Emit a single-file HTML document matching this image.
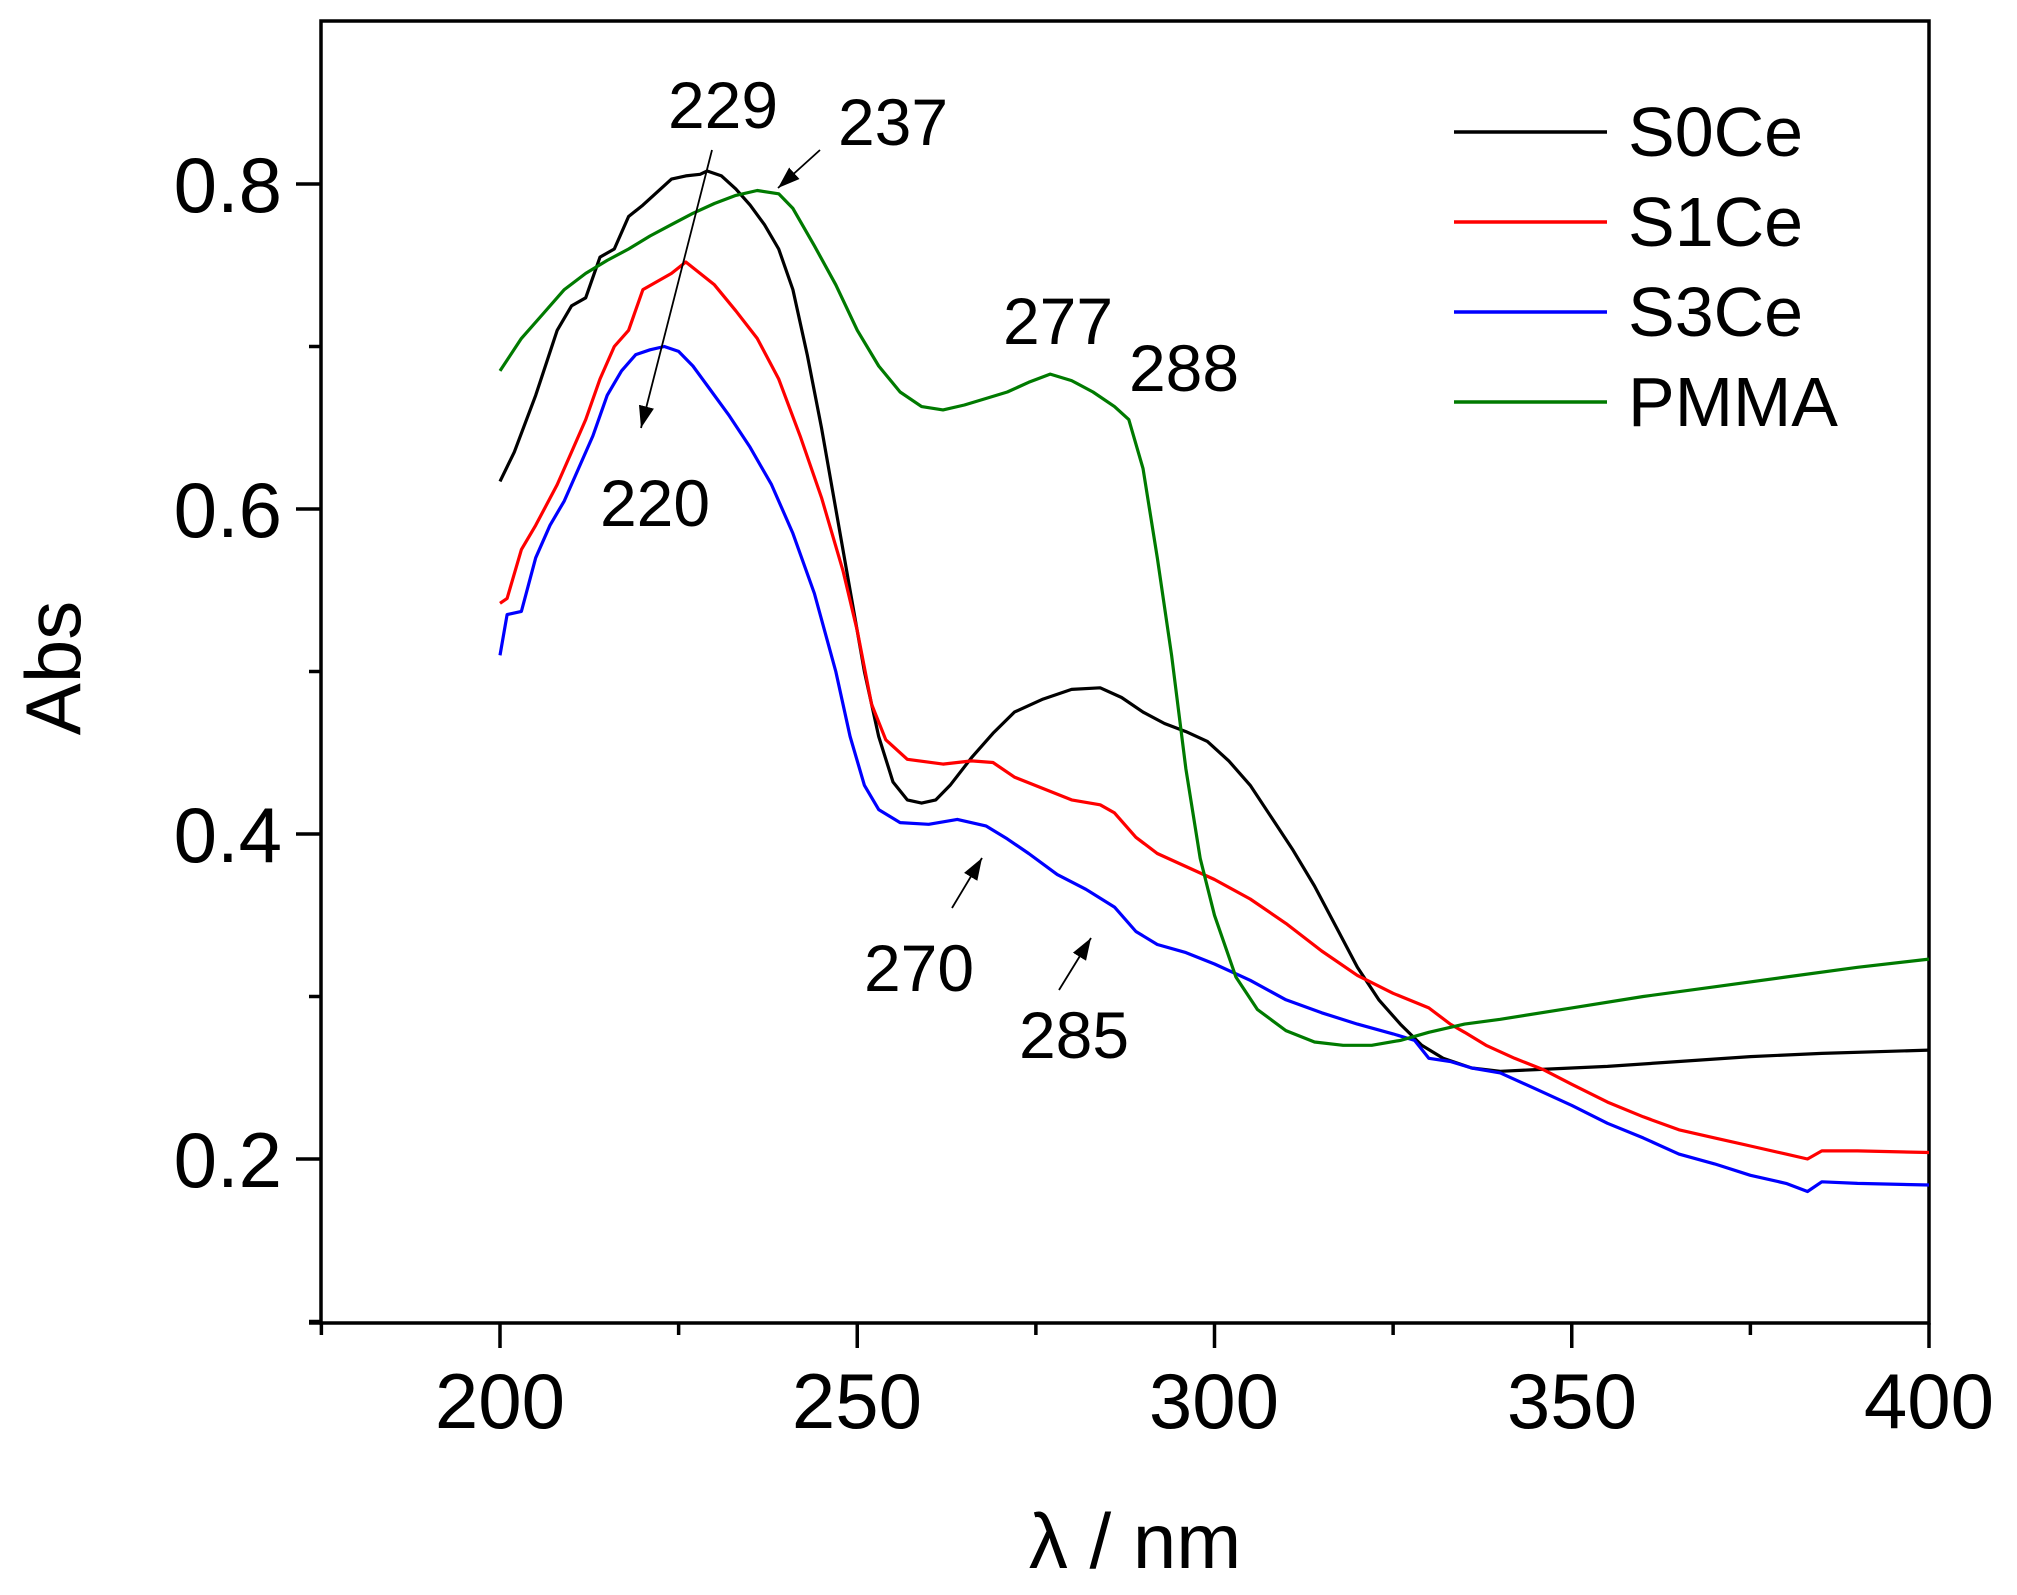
<!DOCTYPE html>
<html><head><meta charset="utf-8">
<style>
html,body{margin:0;padding:0;background:#fff;}
svg{display:block;}
text{font-family:"Liberation Sans",Arial,sans-serif;fill:#000;}
</style></head>
<body>
<svg id="s" width="2017" height="1595" viewBox="0 0 2017 1595" xmlns="http://www.w3.org/2000/svg">
<defs>
<marker id="ah" viewBox="0 0 10 10" refX="10" refY="5" markerWidth="22" markerHeight="22" markerUnits="userSpaceOnUse" orient="auto">
<path d="M0,1.5 L10,5 L0,8.5 z" fill="#000"/>
</marker>
</defs>
<rect x="321" y="21" width="1608" height="1302" fill="none" stroke="#000" stroke-width="3.5"/>
<line x1="309" y1="1323" x2="321" y2="1323" stroke="#000" stroke-width="3.5"/>
<g id="ticks" stroke="#000" stroke-width="3.5"></g>
<g font-size="78">
<text x="282" y="212" text-anchor="end">0.8</text>
<text x="282" y="537" text-anchor="end">0.6</text>
<text x="282" y="862" text-anchor="end">0.4</text>
<text x="282" y="1187" text-anchor="end">0.2</text>
<text x="500" y="1428" text-anchor="middle">200</text>
<text x="857" y="1428" text-anchor="middle">250</text>
<text x="1214" y="1428" text-anchor="middle">300</text>
<text x="1572" y="1428" text-anchor="middle">350</text>
<text x="1929" y="1428" text-anchor="middle">400</text>
<text x="1135" y="1568" text-anchor="middle">λ / nm</text>
<text transform="translate(80,668) rotate(-90)" text-anchor="middle">Abs</text>
</g>
<g fill="none" stroke-width="3.2" stroke-linejoin="round">
<path id="pk" stroke="#000"/>
<path id="pr" stroke="#ff0000"/>
<path id="pb" stroke="#0000ff"/>
<path id="pg" stroke="#007a00"/>
</g>
<g stroke-width="3.5">
<line x1="1454" y1="132" x2="1607" y2="132" stroke="#000"/>
<line x1="1454" y1="222" x2="1607" y2="222" stroke="#ff0000"/>
<line x1="1454" y1="312" x2="1607" y2="312" stroke="#0000ff"/>
<line x1="1454" y1="402" x2="1607" y2="402" stroke="#007a00"/>
</g>
<g font-size="70">
<text x="1628" y="156">S0Ce</text>
<text x="1628" y="246">S1Ce</text>
<text x="1628" y="336">S3Ce</text>
<text x="1628" y="426">PMMA</text>
</g>
<g font-size="66" text-anchor="middle">
<text x="723" y="128">229</text>
<text x="893" y="145">237</text>
<text x="655" y="526">220</text>
<text x="1058" y="344">277</text>
<text x="1184" y="391">288</text>
<text x="919" y="991">270</text>
<text x="1074" y="1058">285</text>
</g>
<g stroke="#000" stroke-width="1.8">
<line x1="712" y1="150" x2="641" y2="428" marker-end="url(#ah)"/>
<line x1="820" y1="150" x2="778" y2="188" marker-end="url(#ah)"/>
<line x1="952" y1="908" x2="982" y2="858" marker-end="url(#ah)"/>
<line x1="1059" y1="990" x2="1091" y2="938" marker-end="url(#ah)"/>
</g>
</svg>
<script>
var X=function(v){return 500+(v-200)*7.145;};
var Y=function(v){return 184+(0.8-v)*1625;};
var NS="http://www.w3.org/2000/svg";
var tg=document.getElementById('ticks');
function ln(a,b,c,d){var l=document.createElementNS(NS,'line');l.setAttribute('x1',a);l.setAttribute('y1',b);l.setAttribute('x2',c);l.setAttribute('y2',d);tg.appendChild(l);}
for(var v=175;v<=400;v+=25){var x=X(v);var major=(v%50===0);ln(x,1323,x,major?1348:1335);}
for(var k=1;k<=8;k++){var val=k/10;var y=Y(val);var major=(k%2===0);ln(major?296:309,y,321,y);}
var D={
pk:[[200,.617],[202,.635],[205,.67],[208,.71],[210,.725],[212,.73],[214,.755],[216,.76],[218,.78],[220,.787],[222,.795],[224,.803],[226,.805],[228,.806],[229,.808],[231,.805],[233,.797],[235,.787],[237,.775],[239,.76],[241,.735],[243,.695],[245,.65],[247,.6],[249,.55],[251,.5],[253,.46],[255,.432],[257,.421],[259,.419],[261,.421],[263,.43],[266,.447],[269,.462],[272,.475],[276,.483],[280,.489],[284,.49],[287,.484],[290,.475],[293,.468],[296,.463],[299,.457],[302,.445],[305,.43],[308,.41],[311,.39],[314,.368],[317,.343],[320,.318],[323,.298],[326,.283],[329,.27],[332,.262],[336,.256],[340,.254],[345,.255],[355,.257],[365,.26],[375,.263],[385,.265],[400,.267]],
pr:[[200,.542],[201,.545],[203,.575],[205,.59],[208,.615],[210,.635],[212,.655],[214,.68],[216,.7],[218,.71],[220,.735],[222,.74],[224,.745],[226,.752],[228,.745],[230,.738],[233,.722],[236,.705],[239,.68],[242,.645],[245,.607],[248,.562],[250,.525],[252,.48],[254,.458],[257,.446],[262,.443],[266,.445],[269,.444],[272,.435],[276,.428],[280,.421],[284,.418],[286,.413],[289,.398],[292,.388],[296,.38],[300,.372],[305,.36],[310,.345],[315,.328],[320,.313],[325,.302],[330,.293],[333,.283],[335,.278],[338,.27],[342,.262],[346,.255],[350,.246],[355,.235],[360,.226],[365,.218],[370,.213],[375,.208],[380,.203],[383,.2],[385,.205],[390,.205],[400,.204]],
pb:[[200,.51],[201,.535],[203,.537],[205,.57],[207,.59],[209,.605],[211,.625],[213,.645],[215,.67],[217,.685],[219,.695],[221,.698],[223,.7],[225,.697],[227,.688],[229,.676],[232,.658],[235,.638],[238,.615],[241,.585],[244,.548],[247,.5],[249,.46],[251,.43],[253,.415],[256,.407],[260,.406],[264,.409],[268,.405],[271,.397],[274,.388],[278,.375],[282,.366],[286,.355],[289,.34],[292,.332],[296,.327],[300,.32],[305,.31],[310,.298],[315,.29],[320,.283],[325,.277],[328,.273],[330,.262],[333,.26],[336,.256],[340,.253],[345,.243],[350,.233],[355,.222],[360,.213],[365,.203],[370,.197],[375,.19],[380,.185],[383,.18],[385,.186],[390,.185],[400,.184]],
pg:[[200,.685],[203,.705],[206,.72],[209,.735],[212,.745],[215,.753],[218,.76],[221,.768],[224,.775],[227,.782],[230,.788],[233,.793],[236,.796],[239,.794],[241,.785],[244,.762],[247,.738],[250,.71],[253,.688],[256,.672],[259,.663],[262,.661],[265,.664],[268,.668],[271,.672],[274,.678],[277,.683],[280,.679],[283,.672],[286,.663],[288,.655],[290,.625],[292,.57],[294,.51],[296,.44],[298,.385],[300,.35],[303,.312],[306,.292],[310,.279],[314,.272],[318,.27],[322,.27],[326,.273],[330,.278],[335,.283],[340,.286],[350,.293],[360,.3],[370,.306],[380,.312],[390,.318],[400,.323]]
};
for(var id in D){var p=D[id],d='';for(var i=0;i<p.length;i++){d+=(i?'L':'M')+X(p[i][0]).toFixed(1)+','+Y(p[i][1]).toFixed(1);}document.getElementById(id).setAttribute('d',d);}
</script>
</body></html>
